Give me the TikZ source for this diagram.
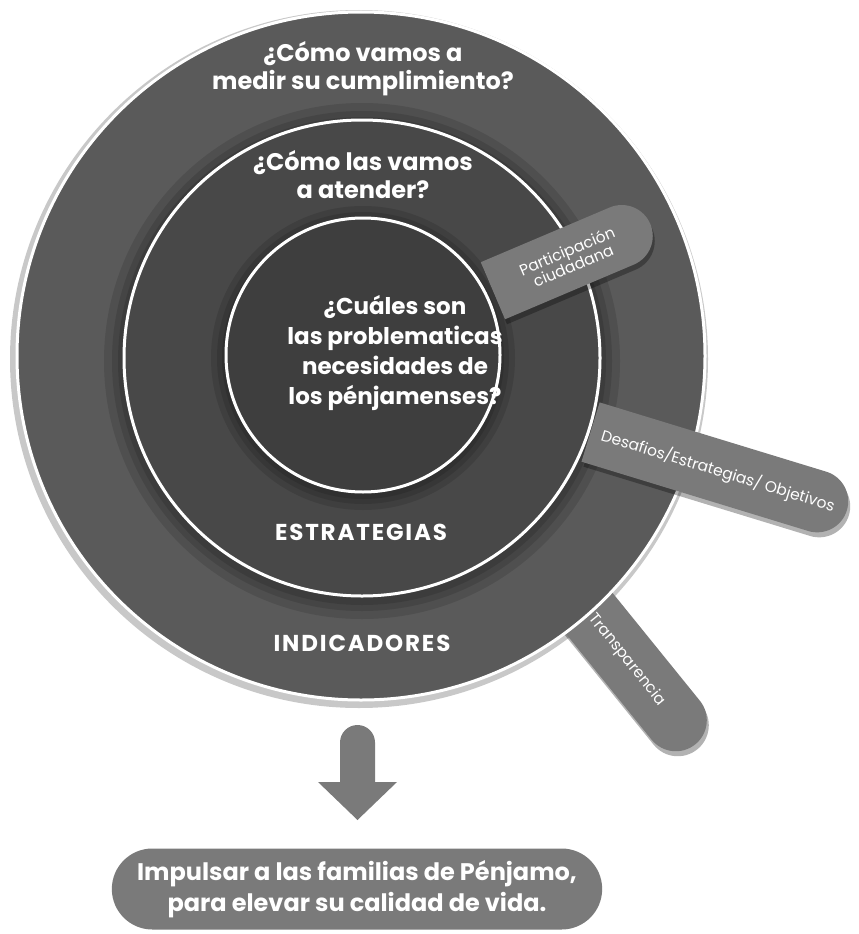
\documentclass[tikz,border=0pt]{standalone}
\usepackage{fontspec}
\usepackage{tikz}
\usetikzlibrary{shapes.misc, shadows, positioning}
\newfontfamily\headfont{Poppins}
\newfontfamily\capsfont{Poppins}[LetterSpace=8]
\newfontfamily\tabfont{Poppins}
\definecolor{ringout}{HTML}{5A5A5A}
\definecolor{ringmid}{HTML}{484848}
\definecolor{ringin}{HTML}{3E3E3E}
\definecolor{tabgray}{HTML}{7A7A7A}
\definecolor{halo}{HTML}{C8C8C8}

\begin{document}
\begin{tikzpicture}[x=1pt, y=-1pt,
        ring/.style={circle, draw=white, line width=3pt, inner sep=0pt},
        tab/.style={rounded rectangle, rounded rectangle left arc=none, fill=tabgray, minimum height=62pt,
            inner sep=2pt, text=white, align=center, font=\tabfont\fontsize{15.5}{16}\selectfont,
            drop shadow={shadow xshift=2pt, shadow yshift=-5pt, opacity=.3, fill=black}},
        head/.style={text=white, align=center, font=\headfont\bfseries\fontsize{24}{28}\selectfont},
        caps/.style={text=white, font=\capsfont\bfseries\fontsize{23}{26}\selectfont}]
        \useasboundingbox (0,0) rectangle (859,934);

        \fill[halo] (359,359) circle[radius=349];
        \node[tab, rotate=-51, minimum width=220pt] (transp) at (627,660) {Transparencia};

        \node[ring, fill=ringout, minimum size=688pt] (outer) at (361,356) {};
        \foreach \r in {258,250,244}
            \fill[black, opacity=.12] (362,361) circle[radius=\r];
        \node[ring, fill=ringmid, minimum size=476pt] (middle) at (362,358) {};
        \foreach \r in {152,146,141}
            \fill[black, opacity=.12] (363,358) circle[radius=\r];
        \node[ring, fill=ringin, minimum size=274pt] (inner) at (363,355) {};

        \node[tab, rotate=23, minimum width=175pt] (partic) at (570,258) {Participación\\ciudadana};
        \node[tab, rotate=-17, minimum width=272pt] (desaf) at (718,471) {\raisebox{3pt}{Desafios/Estrategias/ Objetivos}};

        \node[head] (medir) at (363,69) {¿Cómo vamos a\\medir su cumplimiento?};
        \node[head] (atender) at (363,175) {¿Cómo las vamos\\a atender?};
        \node[head, font=\headfont\bfseries\fontsize{23}{30}\selectfont] (necesid) at (395,353)
            {¿Cuáles son\\las problematicas\\necesidades de\\los pénjamenses?};
        \node[caps] (estrat) at (361,532) {ESTRATEGIAS};
        \node[caps] (indic) at (362,643) {INDICADORES};

        \fill[tabgray] (340,782) -- (340,742.5) arc[start angle=180, end angle=360, radius=17.5]
            -- (375,782) -- (397,782) -- (357.5,820) -- (318,782) -- cycle;

        \node[rounded rectangle, fill=tabgray, minimum width=497pt, minimum height=81pt, text=white, align=center,
            font=\headfont\bfseries\fontsize{24}{31}\selectfont] (goal) at (357,889)
            {Impulsar a las familias de Pénjamo,\\para elevar su calidad de vida.};
\end{tikzpicture}
\end{document}
